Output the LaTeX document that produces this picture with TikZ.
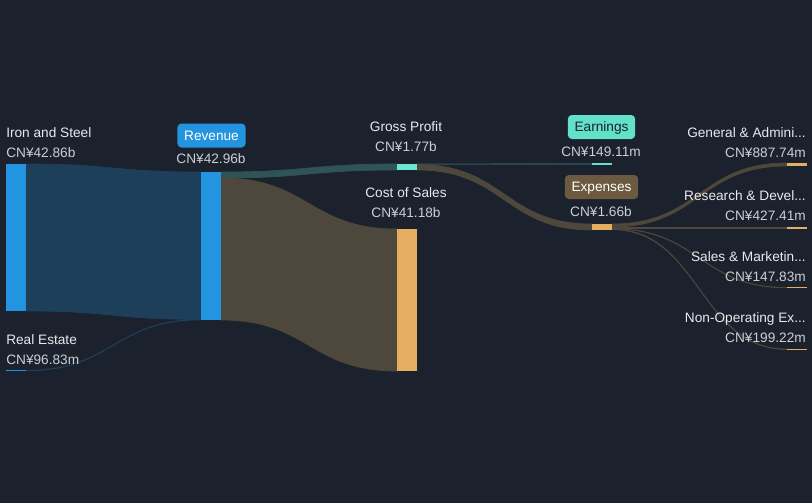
\documentclass[tikz,border=0pt]{standalone}
\usepackage{fontspec}
\setmainfont{Liberation Sans}
\usepackage{xcolor}
\usepackage{tikz}
\usetikzlibrary{positioning}

\definecolor{bgnavy}{RGB}{27,33,45}
\definecolor{revblue}{RGB}{35,148,223}
\definecolor{linkblue}{RGB}{30,63,90}
\definecolor{linkteal}{RGB}{46,84,87}
\definecolor{linkbrown}{RGB}{78,71,59}
\definecolor{gpteal}{RGB}{108,230,210}
\definecolor{costorange}{RGB}{229,174,98}
\definecolor{expbrown}{RGB}{107,90,64}
\definecolor{earnteal}{RGB}{98,224,201}
\definecolor{nametxt}{RGB}{232,233,236}
\definecolor{valtxt}{RGB}{204,206,211}

% band from (x1, top1..bot1) to (x2, top2..bot2)
\newcommand{\sankeyflow}[7]{%
  \pgfmathsetmacro\xmid{(#1+#4)/2}
  \filldraw[#7, line width=0.5pt] (#1,#2) .. controls (\xmid,#2) and (\xmid,#5) .. (#4,#5)
    -- (#4,#6) .. controls (\xmid,#6) and (\xmid,#3) .. (#1,#3) -- cycle;}

\begin{document}
\begin{tikzpicture}[x=0.75pt, y=-0.75pt, node distance = 7.25pt,
                    every node/.style={font=\fontsize{10.25}{12}\selectfont},
                    flowbar/.style={minimum height=#1*0.75pt, minimum width=15pt,
                                    inner sep=0pt, outer sep=0pt},
                    name label/.style={text=nametxt, inner sep=0pt, text height=7pt, text depth=0pt},
                    value label/.style={text=valtxt, inner sep=0pt, text height=7pt, text depth=0pt},
                    tag box/.style={rounded corners=3pt, inner xsep=5pt, minimum height=18pt,
                                    text height=7pt, text depth=0pt}]

  \fill[bgnavy] (0,0) rectangle (812,503);
  \useasboundingbox (0,0) rectangle (812,503);

  % flows
  \sankeyflow{26}{164}{311}{201}{172}{319.4}{linkblue}
  \sankeyflow{26}{370.3}{370.8}{201}{319.4}{319.9}{linkblue}
  \sankeyflow{221}{172}{178}{397}{164}{170}{linkteal}
  \sankeyflow{221}{178}{320}{397}{229}{371}{linkbrown}
  \sankeyflow{417}{164}{164.4}{592}{163.6}{164.2}{linkteal}
  \sankeyflow{417}{164.5}{170}{592}{224}{230}{linkbrown}
  \sankeyflow{612}{224}{227}{787}{163}{166}{linkbrown}
  \sankeyflow{612}{227.1}{228.4}{787}{227.1}{228.4}{linkbrown}
  \sankeyflow{612}{228.5}{228.9}{787}{287.5}{287.9}{linkbrown}
  \sankeyflow{612}{229.1}{229.7}{787}{349}{349.5}{linkbrown}

  % bars
  \node[flowbar=147, fill=revblue] (iron) at (16,237.5) {};
  \node[flowbar=1.5, fill=revblue] (estate) at (16,370.6) {};
  \node[flowbar=148, fill=revblue] (rev) at (211,246) {};
  \node[flowbar=6, fill=gpteal] (gp) at (407,167) {};
  \node[flowbar=142, fill=costorange] (cos) at (407,300) {};
  \node[flowbar=1.3, fill=earnteal] (earn) at (602,164) {};
  \node[flowbar=6, fill=costorange] (exp) at (602,227) {};
  \node[flowbar=3.2, fill=costorange] (ga) at (797,164.6) {};
  \node[flowbar=1.6, fill=costorange] (rd) at (797,227.8) {};
  \node[flowbar=1.3, fill=costorange] (sm) at (797,287.8) {};
  \node[flowbar=1.3, fill=costorange] (nonop) at (797,349.3) {};

  % labels
  \node[name label, anchor=west] (ironlbl) at (6,133) {Iron and Steel};
  \node[value label, below=of ironlbl.south west, anchor=north west] (ironval) {CN¥42.86b};
  \node[name label, anchor=west] (estatelbl) at (6,340) {Real Estate};
  \node[value label, below=of estatelbl.south west, anchor=north west] (estateval) {CN¥96.83m};

  \node[tag box, fill=revblue, text=white] (revlbl) at (211.5,135.5) {Revenue};
  \node[value label] (revval) at (211,159) {CN¥42.96b};

  \node[name label] (gplbl) at (406,127) {Gross Profit};
  \node[value label, below=of gplbl] (gpval) {CN¥1.77b};
  \node[name label] (coslbl) at (406,193) {Cost of Sales};
  \node[value label, below=of coslbl] (cosval) {CN¥41.18b};

  \node[tag box, fill=earnteal, text=bgnavy] (earnlbl) at (601.5,127) {Earnings};
  \node[value label] (earnval) at (601,152) {CN¥149.11m};
  \node[tag box, fill=expbrown, text=white] (explbl) at (601.5,187) {Expenses};
  \node[value label] (expval) at (601,212) {CN¥1.66b};

  \node[name label, anchor=east] (galbl) at (806,133) {General \& Admini...};
  \node[value label, below=of galbl.south east, anchor=north east] (gaval) {CN¥887.74m};
  \node[name label, anchor=east] (rdlbl) at (806,196) {Research \& Devel...};
  \node[value label, below=of rdlbl.south east, anchor=north east] (rdval) {CN¥427.41m};
  \node[name label, anchor=east] (smlbl) at (806,257) {Sales \& Marketin...};
  \node[value label, below=of smlbl.south east, anchor=north east] (smval) {CN¥147.83m};
  \node[name label, anchor=east] (nonoplbl) at (806,318) {Non-Operating Ex...};
  \node[value label, below=of nonoplbl.south east, anchor=north east] (nonopval) {CN¥199.22m};
\end{tikzpicture}
\end{document}
